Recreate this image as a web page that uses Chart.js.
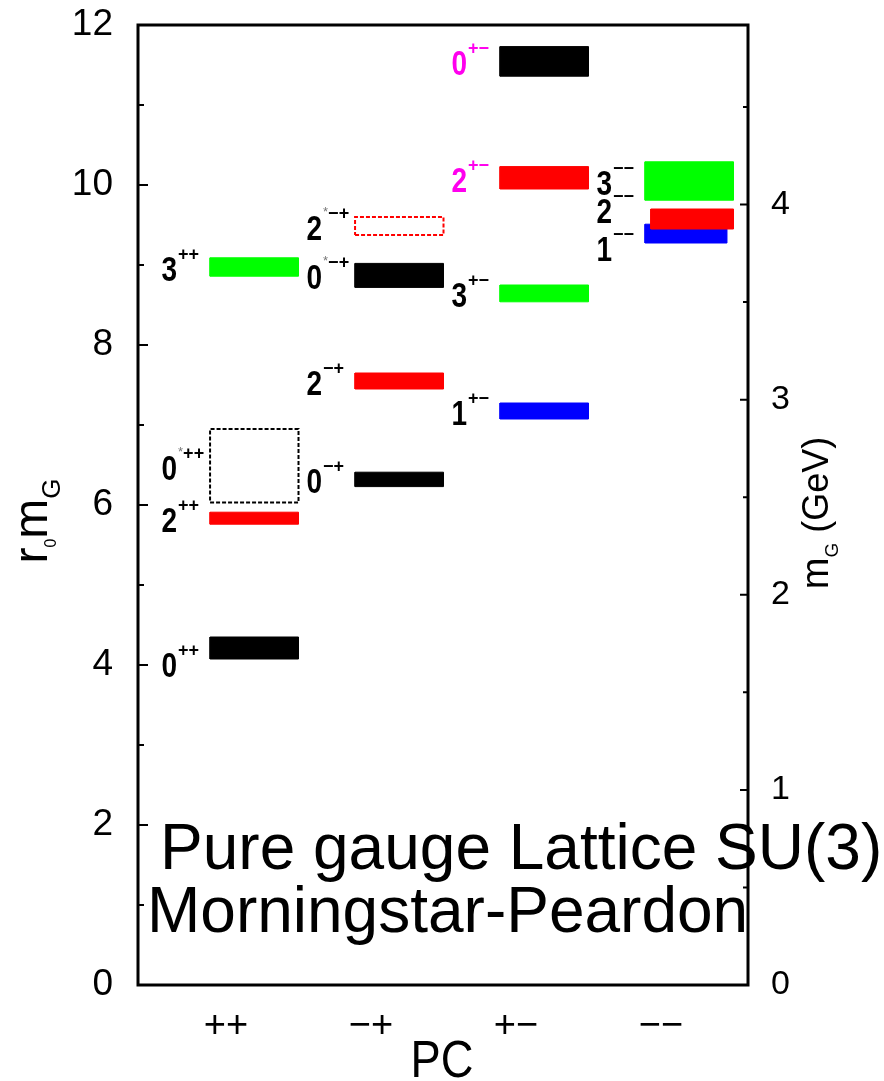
<!DOCTYPE html>
<html>
<head>
<meta charset="utf-8">
<script src="https://cdn.jsdelivr.net/npm/chart.js@4.4.1/dist/chart.umd.min.js"></script>
<style>
  html, body { margin: 0; padding: 0; background: #fff; }
  #wrap { width: 884px; height: 1081px; }
</style>
</head>
<body>
<div id="wrap"><canvas id="glueballs"></canvas></div>
<script>
// PC columns along the bottom
const pcLabels = ["++", "−+", "+−", "−−"];

// glueball states: spin, excited?, PC column, mass band in r0*mG
const stateJ    = [0, 2, 0, 3,   0, 2, 0, 2,   1, 3, 2, 0,   3, 2, 1];
const stateStar = [false, false, true, false,  false, false, true, true,
                   false, false, false, false, false, false, false];
const statePC   = [0, 0, 0, 0,   1, 1, 1, 1,   2, 2, 2, 2,   3, 3, 3];
const massLow   = [4.075, 5.76, 6.03, 8.86,  6.23, 7.45, 8.72, 9.375,
                   7.075, 8.54, 9.95, 11.36, 9.81, 9.45, 9.275];
const massHigh  = [4.35, 5.91, 6.95, 9.09,   6.41, 7.65, 9.02, 9.6,
                   7.275, 8.75, 10.23, 11.73, 10.29, 9.7, 9.51];

const Y_MAX = 12;
const R0_PER_GEV = 1 / 0.410; // r0 in GeV^-1, for the right axis
const X_MIN = -0.607;
const X_MAX = 3.6;

// styles
const FONT = "'Liberation Sans', Arial, sans-serif";
const spinColor = ["#000000", "#0000ff", "#ff0000", "#00ff00"];
const labelColor = { "0+−": "#ff00ee", "2+−": "#ff00ee" };
const dashedStates = ["0*++", "2*−+"]; // drawn as open dashed boxes
const BAR_FROM = -0.11;
const BAR_TO = 0.5;
const barShift = { "2−−": [0.04, 0], "1−−": [0, -0.045] }; // overlapping bands
const LABEL_FROM = -0.445;
const LABEL_DROP = 14; // px below band centre
const labelNudge = { "0++": 15, "2−−": -10, "1−−": 13 };

function stateName(i) {
  return `${stateJ[i]}${stateStar[i] ? "*" : ""}${pcLabels[statePC[i]]}`;
}

const datasets = stateJ.map((j, i) => {
  const name = stateName(i);
  const col = statePC[i];
  const shift = barShift[name] || [0, 0];
  const x0 = col + BAR_FROM + shift[0];
  const x1 = col + BAR_TO + shift[1];
  const lo = massLow[i];
  const hi = massHigh[i];
  const color = spinColor[j];
  const dashed = dashedStates.includes(name);
  return {
    label: name,
    data: [
      { x: x0, y: lo }, { x: x1, y: lo }, { x: x1, y: hi },
      { x: x0, y: hi }, { x: x0, y: lo },
    ],
    borderColor: color,
    backgroundColor: color,
    borderWidth: dashed ? 2 : 1,
    borderDash: dashed ? [4, 2] : [],
    fill: dashed ? false : "shape",
    pointRadius: 0,
    tension: 0,
  };
});

function squashText(ctx, text, x, y, sx) {
  ctx.save();
  ctx.translate(x, y);
  ctx.scale(sx, 1);
  ctx.fillText(text, 0, 0);
  ctx.restore();
  return ctx.measureText(text).width * sx;
}

// rotated title made of [text, size, drop] pieces
function rotatedTitle(ctx, cx, cy, parts) {
  ctx.save();
  ctx.translate(cx, cy);
  ctx.rotate(-Math.PI / 2);
  ctx.textAlign = "left";
  ctx.textBaseline = "alphabetic";
  let total = 0;
  for (const [t, size] of parts) {
    ctx.font = `${size}px ${FONT}`;
    total += ctx.measureText(t).width;
  }
  let px = -total / 2;
  for (const [t, size, drop] of parts) {
    ctx.font = `${size}px ${FONT}`;
    ctx.fillText(t, px, drop);
    px += ctx.measureText(t).width;
  }
  ctx.restore();
}

// fixed frame: plot top at 25px
function fixVertical(width) {
  return (scale) => {
    scale.width = width;
    scale.paddingTop = 25;
    scale.paddingBottom = 0;
  };
}

const levelPlot = {
  id: "levelPlot",
  afterDraw(chart) {
    const { ctx, chartArea: ca } = chart;
    const { x, y, y2 } = chart.scales;
    ctx.save();

    // frame
    ctx.strokeStyle = "#000";
    ctx.lineWidth = 3;
    ctx.strokeRect(ca.left, ca.top, ca.right - ca.left, ca.bottom - ca.top);

    // inward ticks, left (r0 mG) and right (GeV)
    ctx.lineWidth = 2;
    ctx.beginPath();
    for (let v = 0; v <= Y_MAX; v++) {
      const py = y.getPixelForValue(v);
      ctx.moveTo(ca.left, py);
      ctx.lineTo(ca.left + (v % 2 === 0 ? 10 : 6), py);
    }
    for (let g = 0; g <= y2.max; g += 0.5) {
      const py = y2.getPixelForValue(g);
      ctx.moveTo(ca.right, py);
      ctx.lineTo(ca.right - (g % 1 === 0 ? 8 : 5), py);
    }
    ctx.stroke();

    // state labels J^PC
    ctx.textAlign = "left";
    ctx.textBaseline = "alphabetic";
    stateJ.forEach((j, i) => {
      const name = stateName(i);
      const color = labelColor[name] || "#000";
      let px = x.getPixelForValue(statePC[i] + LABEL_FROM);
      const py = y.getPixelForValue((massLow[i] + massHigh[i]) / 2) +
        LABEL_DROP + (labelNudge[name] || 0);
      ctx.fillStyle = color;
      ctx.font = `bold 35px ${FONT}`;
      px += squashText(ctx, String(j), px, py, 0.8) + 1;
      if (stateStar[i]) {
        ctx.fillStyle = "#777";
        ctx.font = `13px ${FONT}`;
        ctx.fillText("*", px, py - 24);
        px += ctx.measureText("*").width;
        ctx.fillStyle = color;
      }
      ctx.font = `bold 18px ${FONT}`;
      ctx.fillText(pcLabels[statePC[i]], px, py - 21);
    });

    // axis titles
    ctx.fillStyle = "#000";
    rotatedTitle(ctx, 47, 521, [["r", 48, 0], ["0", 16, 9], ["m", 48, 0], ["G", 26, 13]]);
    rotatedTitle(ctx, 828, 513, [["m", 38, 0], ["G", 19, 10], [" (GeV)", 36, 0]]);
    ctx.font = `52px ${FONT}`;
    ctx.textAlign = "center";
    squashText(ctx, "PC", (ca.left + ca.right) / 2 - 1, 1077, 0.87);

    // annotation
    ctx.textAlign = "left";
    ctx.font = `64px ${FONT}`;
    ctx.fillText("Pure gauge Lattice SU(3)", x.getPixelForValue(-0.455), y.getPixelForValue(1.45));
    ctx.fillText("Morningstar-Peardon", x.getPixelForValue(-0.545), y.getPixelForValue(0.6625));

    ctx.restore();
  },
};

new Chart(document.getElementById("glueballs"), {
  type: "line",
  data: { datasets },
  options: {
    responsive: true,
    maintainAspectRatio: false,
    animation: false,
    layout: { padding: 0 },
    plugins: {
      legend: { display: false },
      tooltip: { enabled: false },
    },
    scales: {
      x: {
        type: "linear",
        min: X_MIN,
        max: X_MAX,
        grid: { display: false },
        border: { display: false },
        afterBuildTicks: (scale) => {
          scale.ticks = pcLabels.map((_, i) => ({ value: i }));
        },
        afterFit: (scale) => {
          scale.height = 96;
          scale.paddingLeft = 0;
          scale.paddingRight = 0;
        },
        ticks: {
          autoSkip: false,
          maxRotation: 0,
          padding: 11,
          color: "#000",
          font: { family: FONT, size: 38 },
          callback: (value) => pcLabels[value],
        },
      },
      y: {
        type: "linear",
        position: "left",
        min: 0,
        max: Y_MAX,
        grid: { display: false },
        border: { display: false },
        afterFit: fixVertical(138),
        ticks: {
          stepSize: 2,
          padding: 17,
          color: "#000",
          font: { family: FONT, size: 37 },
        },
      },
      y2: {
        type: "linear",
        position: "right",
        min: 0,
        max: Y_MAX / R0_PER_GEV,
        grid: { display: false },
        border: { display: false },
        afterFit: fixVertical(136),
        ticks: {
          stepSize: 1,
          includeBounds: false,
          padding: 15,
          color: "#000",
          font: { family: FONT, size: 34 },
        },
      },
    },
  },
  plugins: [levelPlot],
});
</script>
</body>
</html>
